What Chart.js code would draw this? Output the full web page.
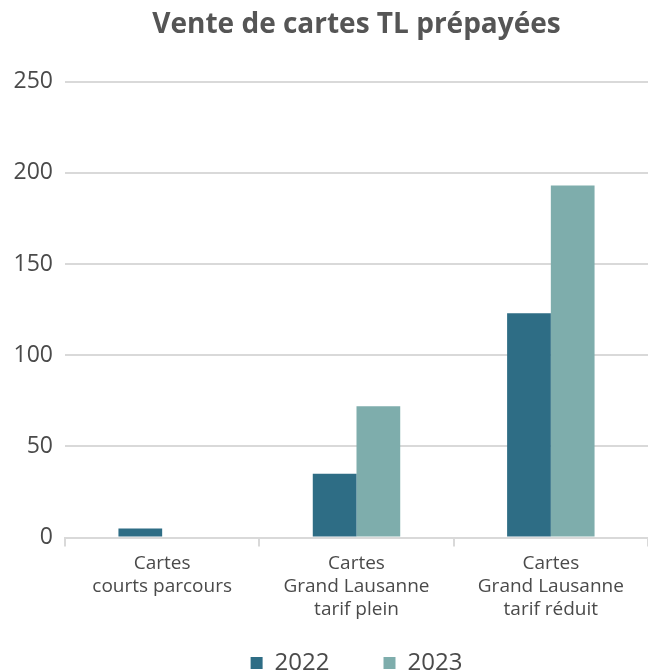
<!DOCTYPE html>
<html>
<head>
<meta charset="utf-8">
<script src="https://cdn.jsdelivr.net/npm/chart.js@4"></script>
<style>
  body { margin: 0; background: #fff; }
</style>
</head>
<body>
<canvas id="salesChart" width="648" height="671"></canvas>
<script>
// chart data
const categories = [
  ['Cartes', 'courts parcours'],
  ['Cartes', 'Grand Lausanne', 'tarif plein'],
  ['Cartes', 'Grand Lausanne', 'tarif réduit']
];
const sales2022 = [5, 35, 123];
const sales2023 = [0, 72, 193];
const yTicks = [0, 50, 100, 150, 200, 250];

const gridColor = '#d9d9d9';
const textColor = '#4a4a4a';

const salesChart = new Chart('salesChart', {
  type: 'bar',
  data: {
    labels: categories,
    datasets: [{
      label: '2022',
      backgroundColor: '#2e6d85',
      data: sales2022
    }, {
      label: '2023',
      backgroundColor: '#7eadac',
      data: sales2023
    }]
  },
  options: {
    responsive: false,
    animation: false,
    categoryPercentage: 0.45,
    barPercentage: 1,
    layout: {
      // negative bottom padding: legend padding is only wanted above the items
      padding: { left: 8, right: 0, top: 0, bottom: -14 }
    },
    plugins: {
      title: {
        display: true,
        fullSize: false,
        text: 'Vente de cartes TL prépayées',
        color: '#555',
        font: { family: 'Open Sans', size: 28, weight: 'bold' },
        padding: { top: 8, bottom: 40 }
      },
      legend: {
        position: 'bottom',
        fullSize: false,
        labels: {
          boxWidth: 12,
          boxHeight: 12,
          padding: 24,
          color: textColor,
          font: { family: 'Open Sans', size: 24 },
          // widen the gap after the first item without adding vertical space
          generateLabels: chart => {
            const items = Chart.defaults.plugins.legend.labels.generateLabels(chart);
            items[0].text += '\u2003\u2005';
            return items;
          }
        }
      },
      tooltip: { enabled: false }
    },
    scales: {
      x: {
        offset: true,
        grid: {
          offset: true,
          drawOnChartArea: false,
          color: gridColor,
          lineWidth: 2,
          tickLength: 9
        },
        border: { color: gridColor, width: 2 },
        ticks: {
          color: textColor,
          padding: 6,
          maxRotation: 0,
          font: { family: 'Open Sans', size: 19, lineHeight: 1.2 }
        }
      },
      y: {
        min: 0,
        max: 250,
        afterBuildTicks: axis => {
          axis.ticks = yTicks.map(v => ({ value: v }));
        },
        afterFit: axis => {
          axis.width = 57;
        },
        grid: {
          color: gridColor,
          lineWidth: 2,
          drawTicks: false
        },
        border: { display: false },
        ticks: {
          color: textColor,
          padding: 12,
          font: { family: 'Open Sans', size: 23 }
        }
      }
    }
  }
});
</script>
</body>
</html>
